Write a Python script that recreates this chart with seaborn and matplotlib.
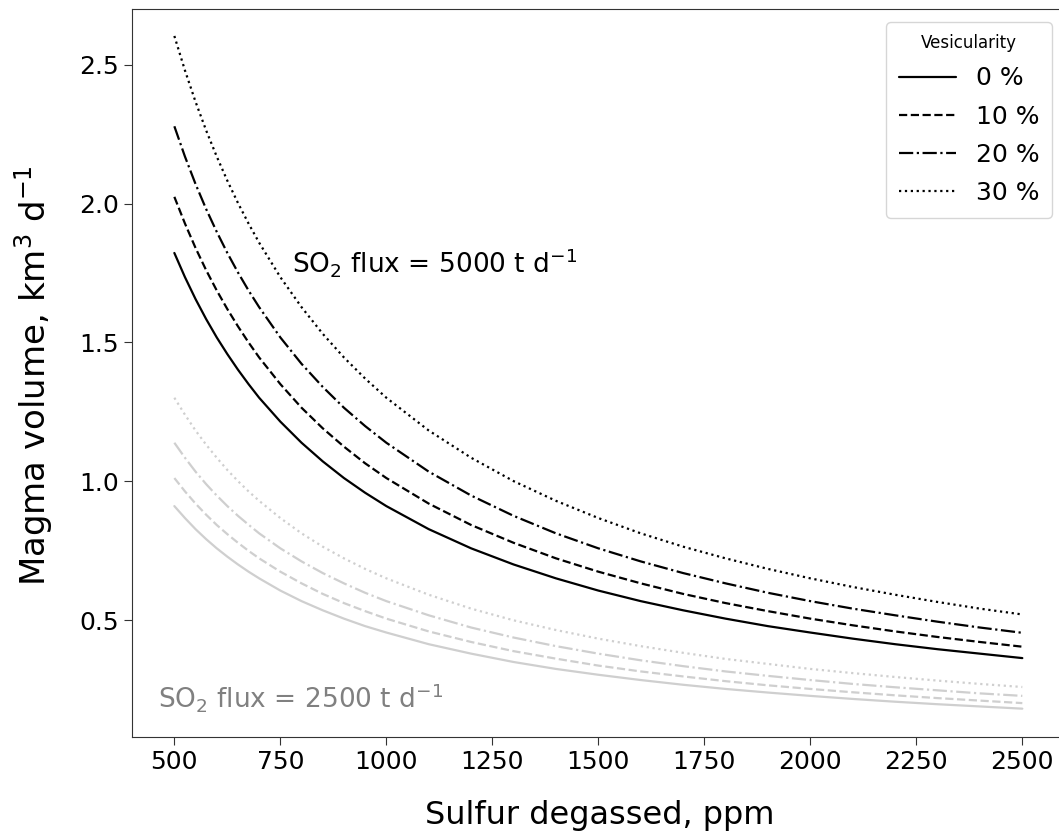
import matplotlib
matplotlib.use("Agg")
import matplotlib.pyplot as plt
import seaborn as sns
import pandas as pd

# Sulfur degassed (ppm)
sulfur_ppm = [500, 525, 550, 575, 600, 625, 650, 675, 700, 750, 800, 850, 900, 950, 1000,
              1100, 1200, 1300, 1400, 1500, 1600, 1700, 1800, 1900, 2000, 2100, 2200, 2300, 2400, 2500]

vesicularity_labels = ["0 %", "10 %", "20 %", "30 %"]

# Magma volume (km^3 d^-1) for an SO2 flux of 5000 t/d
flux5000_v0 = [1.822, 1.735, 1.656, 1.584, 1.518, 1.458, 1.402, 1.350, 1.301, 1.215, 1.139, 1.072, 1.012, 0.959, 0.911,
               0.828, 0.759, 0.701, 0.651, 0.607, 0.569, 0.536, 0.506, 0.479, 0.456, 0.434, 0.414, 0.396, 0.380, 0.364]
flux5000_v10 = [2.024, 1.928, 1.840, 1.760, 1.687, 1.620, 1.558, 1.500, 1.446, 1.350, 1.265, 1.191, 1.125, 1.065, 1.012,
                0.920, 0.843, 0.779, 0.723, 0.675, 0.633, 0.595, 0.562, 0.533, 0.506, 0.482, 0.460, 0.440, 0.422, 0.405]
flux5000_v20 = [2.278, 2.169, 2.070, 1.980, 1.898, 1.822, 1.752, 1.687, 1.627, 1.518, 1.423, 1.340, 1.265, 1.199, 1.139,
                1.035, 0.949, 0.876, 0.813, 0.759, 0.712, 0.670, 0.633, 0.599, 0.569, 0.542, 0.518, 0.495, 0.474, 0.455]
flux5000_v30 = [2.603, 2.479, 2.366, 2.263, 2.169, 2.082, 2.002, 1.928, 1.859, 1.735, 1.627, 1.531, 1.446, 1.370, 1.301,
                1.183, 1.085, 1.001, 0.930, 0.868, 0.813, 0.765, 0.723, 0.685, 0.651, 0.620, 0.592, 0.566, 0.542, 0.521]

# Magma volume (km^3 d^-1) for an SO2 flux of 2500 t/d
flux2500_v0 = [0.911, 0.868, 0.828, 0.792, 0.759, 0.729, 0.701, 0.675, 0.651, 0.607, 0.569, 0.536, 0.506, 0.479, 0.456,
               0.414, 0.380, 0.350, 0.325, 0.304, 0.285, 0.268, 0.253, 0.240, 0.228, 0.217, 0.207, 0.198, 0.190, 0.182]
flux2500_v10 = [1.012, 0.964, 0.920, 0.880, 0.843, 0.810, 0.779, 0.750, 0.723, 0.675, 0.633, 0.595, 0.562, 0.533, 0.506,
                0.460, 0.422, 0.389, 0.362, 0.337, 0.316, 0.298, 0.281, 0.266, 0.253, 0.241, 0.230, 0.220, 0.211, 0.202]
flux2500_v20 = [1.139, 1.085, 1.035, 0.990, 0.949, 0.911, 0.876, 0.844, 0.813, 0.759, 0.712, 0.670, 0.633, 0.599, 0.569,
                0.518, 0.474, 0.438, 0.407, 0.380, 0.356, 0.335, 0.316, 0.300, 0.285, 0.271, 0.259, 0.248, 0.237, 0.228]
flux2500_v30 = [1.301, 1.240, 1.183, 1.132, 1.085, 1.041, 1.001, 0.964, 0.930, 0.868, 0.813, 0.765, 0.723, 0.685, 0.651,
                0.592, 0.542, 0.500, 0.465, 0.434, 0.407, 0.383, 0.361, 0.343, 0.325, 0.310, 0.296, 0.283, 0.271, 0.260]

series_5000 = [flux5000_v0, flux5000_v10, flux5000_v20, flux5000_v30]
series_2500 = [flux2500_v0, flux2500_v10, flux2500_v20, flux2500_v30]
line_styles = ["-", "--", "-.", ":"]

sns.set_style("ticks", {"axes.edgecolor": "#333333", "text.color": "black",
                        "xtick.color": "#333333", "ytick.color": "#333333",
                        "axes.labelcolor": "black"})
plt.rcParams["font.family"] = ["DejaVu Sans"]

fig = plt.figure(figsize=(10.59, 8.34), dpi=100)
# the axes run slightly past the right edge of the canvas
ax = fig.add_axes([0.1246, 0.1163, 0.8808, 0.8729])

for vals, ls in zip(series_2500, line_styles):
    df = pd.DataFrame({"S": sulfur_ppm, "V": vals})
    sns.lineplot(data=df, x="S", y="V", ax=ax, color="#cfcfcf", linestyle=ls, linewidth=1.6)

for vals, ls, lab in zip(series_5000, line_styles, vesicularity_labels):
    df = pd.DataFrame({"S": sulfur_ppm, "V": vals})
    sns.lineplot(data=df, x="S", y="V", ax=ax, color="black", linestyle=ls, linewidth=1.6, label=lab)

ax.text(778, 1.788, r"SO$_2$ flux = 5000 t d$^{-1}$", fontsize=19, color="black", va="center")
ax.text(462, 0.223, r"SO$_2$ flux = 2500 t d$^{-1}$", fontsize=19, color="#808080", va="center")

ax.set_xlim(400, 2600)
ax.set_ylim(0.08, 2.70)
ax.set_xticks([500, 750, 1000, 1250, 1500, 1750, 2000, 2250, 2500])
ax.set_yticks([0.5, 1.0, 1.5, 2.0, 2.5])
ax.tick_params(labelsize=18, length=6, labelcolor="black")
ax.set_xlabel("Sulfur degassed, ppm", fontsize=23)
ax.set_ylabel(r"Magma volume, km$^3$ d$^{-1}$", fontsize=24.5)
ax.xaxis.set_label_coords(0.502, -0.086)
ax.yaxis.set_label_coords(-0.083, 0.496)

leg = ax.legend(title="Vesicularity", loc="upper right", fontsize=18, title_fontsize=12,
                handlelength=2.3, labelspacing=0.57, borderaxespad=0.5, borderpad=0.5)

fig.savefig("out.png", dpi=100)
